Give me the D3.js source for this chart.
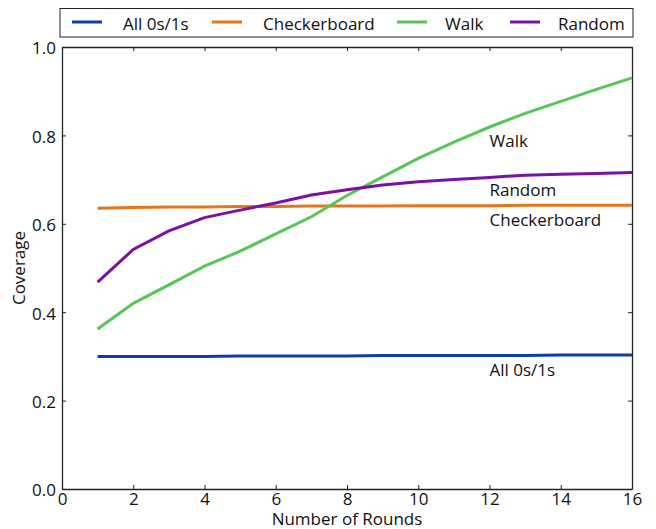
<!DOCTYPE html>
<html>
<head>
<meta charset="utf-8">
<script src="https://cdn.jsdelivr.net/npm/d3@7"></script>
<style>
  body { margin: 0; background: #fff; }
  svg text { font-family: "Open Sans", "Noto Sans", sans-serif; fill: #111; }
</style>
</head>
<body>
<div id="svg-container"></div>
<script>
// data
const rounds = d3.range(1, 17);
const allZerosOnes = [0.300, 0.300, 0.300, 0.300, 0.301, 0.301, 0.301, 0.301, 0.302, 0.302, 0.302, 0.302, 0.302, 0.303, 0.303, 0.303];
const checkerboard = [0.635, 0.637, 0.638, 0.638, 0.639, 0.639, 0.640, 0.640, 0.640, 0.641, 0.641, 0.641, 0.642, 0.642, 0.642, 0.642];
const walk = [0.362, 0.420, 0.462, 0.504, 0.538, 0.577, 0.616, 0.664, 0.706, 0.748, 0.785, 0.819, 0.850, 0.877, 0.904, 0.930];
const random = [0.468, 0.542, 0.584, 0.614, 0.631, 0.647, 0.665, 0.677, 0.688, 0.695, 0.700, 0.705, 0.710, 0.712, 0.714, 0.716];

const seriesNames = ["All 0s/1s", "Checkerboard", "Walk", "Random"];
const seriesValues = [allZerosOnes, checkerboard, walk, random];
const seriesColors = ["#0b3ea6", "#e6741b", "#56c656", "#7a10a6"];
// inline labels sit at x=12, y in data units (baseline)
const labelX = 12;
const labelY = [0.255, 0.595, 0.773, 0.663];

const xTicks = d3.range(0, 17, 2);
const yTicks = [0, 0.2, 0.4, 0.6, 0.8, 1.0];

// init
const width = 656, height = 529;
const margin = { top: 47, right: 24, bottom: 40, left: 62 };
const fontSize = "17px";

const svg = d3.select("#svg-container").append("svg")
  .attr("width", width).attr("height", height);

const xScale = d3.scaleLinear().domain([0, 16]).range([margin.left, width - margin.right]);
const yScale = d3.scaleLinear().domain([0, 1]).range([height - margin.bottom, margin.top]);

// axes (ticks inside, all four sides)
const tickLen = 4;
svg.append("g").attr("class", "x-axis")
  .attr("transform", `translate(0,${height - margin.bottom})`)
  .call(d3.axisBottom(xScale).tickValues(xTicks).tickSizeInner(-tickLen).tickSizeOuter(0).tickPadding(4).tickFormat(d3.format("d")));
svg.append("g")
  .attr("transform", `translate(0,${margin.top})`)
  .call(d3.axisTop(xScale).tickValues(xTicks).tickSizeInner(-tickLen).tickSizeOuter(0).tickFormat(""));
svg.append("g").attr("class", "y-axis")
  .attr("transform", `translate(${margin.left},0)`)
  .call(d3.axisLeft(yScale).tickValues(yTicks).tickSizeInner(-tickLen).tickSizeOuter(0).tickPadding(6).tickFormat(d3.format(".1f")));
svg.append("g")
  .attr("transform", `translate(${width - margin.right},0)`)
  .call(d3.axisRight(yScale).tickValues(yTicks).tickSizeInner(-tickLen).tickSizeOuter(0).tickFormat(""));

svg.selectAll(".domain").attr("stroke", "#222").attr("stroke-width", 1.3);
svg.selectAll(".tick line").attr("stroke", "#222");
svg.selectAll(".tick text").style("font-size", fontSize).attr("fill", "#111");
svg.select(".y-axis").selectAll(".tick text").attr("dy", "0.4em");

// lines
const line = d3.line().x((d, i) => xScale(rounds[i])).y(d => yScale(d));
svg.selectAll(".series")
  .data(seriesValues)
  .enter()
  .append("path")
  .attr("d", d => line(d))
  .attr("fill", "none")
  .attr("stroke", (d, i) => seriesColors[i])
  .attr("stroke-width", 3);

// inline labels
svg.selectAll(".line-label")
  .data(seriesNames)
  .enter()
  .append("text")
  .attr("x", xScale(labelX))
  .attr("y", (d, i) => yScale(labelY[i]))
  .style("font-size", fontSize)
  .text(d => d);

// units
svg.append("text")
  .attr("x", (xScale(0) + xScale(16)) / 2)
  .attr("y", height - 4)
  .attr("text-anchor", "middle")
  .style("font-size", fontSize)
  .text("Number of Rounds");
svg.append("text")
  .attr("transform", `translate(25,${yScale(0.5)}) rotate(-90)`)
  .attr("text-anchor", "middle")
  .style("font-size", fontSize)
  .text("Coverage");

// legend
const legend = svg.append("g");
legend.append("rect")
  .attr("x", 60).attr("y", 8.5)
  .attr("width", 573).attr("height", 28.5)
  .attr("fill", "#fff").attr("stroke", "#222").attr("stroke-width", 1);
const lgLineX = [72, 212, 397, 510];
const lgTextX = [123, 263, 445, 558];
legend.selectAll(".lg-line")
  .data(seriesNames)
  .enter()
  .append("line")
  .attr("x1", (d, i) => lgLineX[i]).attr("x2", (d, i) => lgLineX[i] + 30)
  .attr("y1", 22).attr("y2", 22)
  .attr("stroke", (d, i) => seriesColors[i]).attr("stroke-width", 3);
legend.selectAll(".lg-text")
  .data(seriesNames)
  .enter()
  .append("text")
  .attr("x", (d, i) => lgTextX[i])
  .attr("y", 30)
  .style("font-size", fontSize)
  .text(d => d);
</script>
</body>
</html>
